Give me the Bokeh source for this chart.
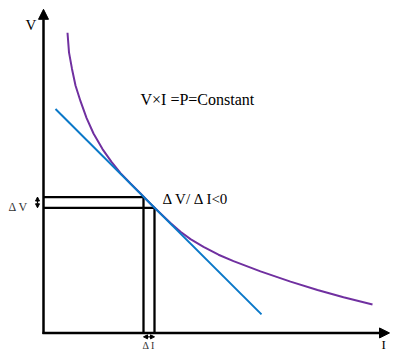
from bokeh.plotting import figure
from bokeh.models import Range1d, Arrow, NormalHead, Label
from bokeh.embed import file_html
from bokeh.resources import INLINE

# ---- data (units: I along x, V along y) ----
curve_I = [24, 25.5, 28.5, 32, 37, 43, 50, 59, 68, 77, 87, 97, 107, 117, 127, 137,
           147, 160, 175, 190, 217, 247, 274, 300, 329]
curve_V = [307, 287, 270, 253, 237, 220, 204, 188, 175, 163.5, 152.8, 142.6, 132.2, 122.2,
           112.5, 103.5, 96, 88, 80, 73.5, 63, 52.5, 44, 36.5, 29]

tangent_I = [12, 218]
tangent_V = [229, 19]

op_I = [100, 111]   # two operating points (currents)
op_V = [139, 128]   # two operating points (voltages)

axis_I_max = 346
axis_V_max = 331

SERIF = "Liberation Serif"

p = figure(width=391, height=352, output_backend="svg", toolbar_location=None,
           x_range=Range1d(-43, 348), y_range=Range1d(-20, 340),
           x_axis_type=None, y_axis_type=None, min_border=0)
p.grid.visible = False
p.outline_line_color = None
p.background_fill_color = "white"
p.border_fill_color = "white"

# rectangles from origin to the operating points
p.multi_line(xs=[[0, i, i] for i in op_I], ys=[[v, v, 0] for v in op_V],
             line_color="black", line_width=2.3)

# constant power curve and tangent
p.line(curve_I, curve_V, line_color="#7030A0", line_width=2, line_join="round")
p.line(tangent_I, tangent_V, line_color="#0A78C8", line_width=2)

# axes with arrow heads
p.add_layout(Arrow(end=NormalHead(size=10, fill_color="black", line_color="black", line_width=1),
                   x_start=0, y_start=-1, x_end=0, y_end=axis_V_max,
                   line_color="black", line_width=2.5))
p.add_layout(Arrow(end=NormalHead(size=10, fill_color="black", line_color="black", line_width=1),
                   x_start=-1, y_start=0, x_end=axis_I_max, y_end=0,
                   line_color="black", line_width=2.5))

# small double arrows for delta V and delta I
p.add_layout(Arrow(start=NormalHead(size=4, fill_color="black", line_color="black", line_width=1),
                   end=NormalHead(size=4, fill_color="black", line_color="black", line_width=1),
                   x_start=-6, y_start=op_V[0], x_end=-6, y_end=op_V[1],
                   line_color="black", line_width=1.2))
p.add_layout(Arrow(start=NormalHead(size=4, fill_color="black", line_color="black", line_width=1),
                   end=NormalHead(size=4, fill_color="black", line_color="black", line_width=1),
                   x_start=op_I[0], y_start=-4, x_end=op_I[1], y_end=-4,
                   line_color="black", line_width=1.2))

# texts
def lab(x, y, t, size, color="black"):
    p.add_layout(Label(x=x, y=y, text=t, text_font=SERIF, text_font_size=size,
                       text_color=color, text_baseline="alphabetic", text_align="left"))

lab(-18, 315, "V", "15px")
lab(338, -12, "I", "13px")
lab(97, 239, "V×I =P=Constant", "16px")
lab(119, 137.5, "Δ V/ Δ I<0", "15px")
lab(-35, 129, "Δ V", "12px", "#333333")
lab(99, -12.5, "Δ I", "10px", "#333333")

open("out.html", "w").write(file_html(p, INLINE))
